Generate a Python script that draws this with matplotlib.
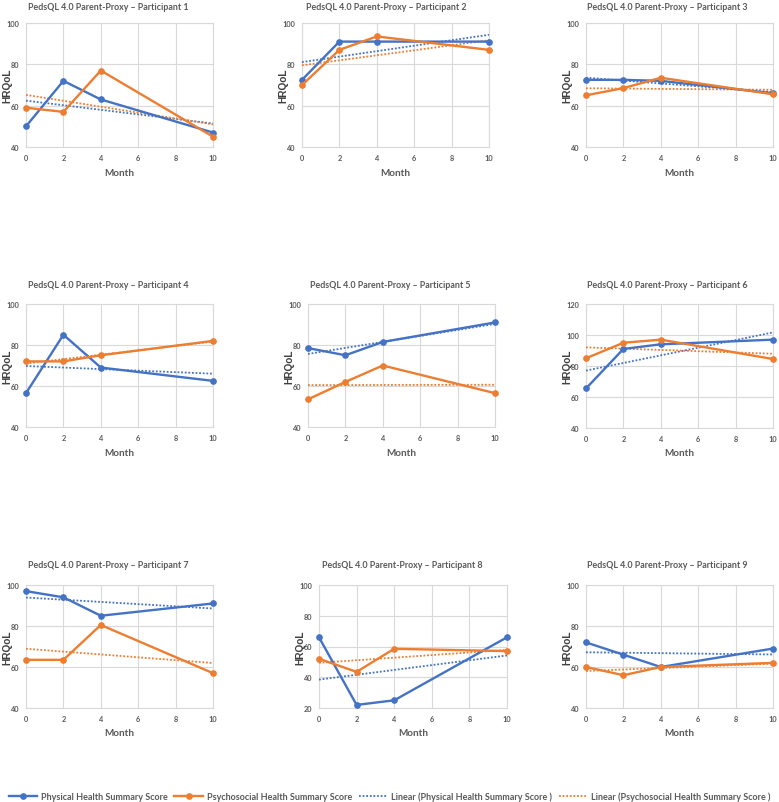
import numpy as np
import matplotlib
matplotlib.use("Agg")
import matplotlib.pyplot as plt
from matplotlib.lines import Line2D

plt.rcParams['font.family'] = ['Lato', 'DejaVu Sans']

months = [0, 2, 4, 10]
participants = ["Participant 1", "Participant 2", "Participant 3",
                "Participant 4", "Participant 5", "Participant 6",
                "Participant 7", "Participant 8", "Participant 9"]
physical = [
    [50, 72, 63, 47],
    [72.5, 91, 91, 91],
    [72.5, 72.5, 72, 66],
    [56.5, 85, 69, 62.5],
    [78.5, 75, 81.5, 91],
    [65.5, 91, 94, 97],
    [97, 94, 85, 91],
    [66, 22, 25, 66],
    [72, 66, 60, 69],
]
psychosocial = [
    [59, 57, 77, 45],
    [70, 87, 93.5, 87],
    [65, 68.5, 73.5, 65.5],
    [72, 72, 75, 82],
    [53.5, 62, 70, 56.5],
    [85, 95, 97, 84.5],
    [63.5, 63.5, 80.5, 57],
    [52, 43.5, 58.5, 57],
    [60, 56, 60, 62],
]
y_limits = [(40, 100), (40, 100), (40, 100),
            (40, 100), (40, 100), (40, 120),
            (40, 100), (20, 100), (40, 100)]
series_names = ["Physical Health Summary Score", "Psychosocial Health Summary Score",
                "Linear (Physical Health Summary Score )", "Linear (Psychosocial Health Summary Score )"]

W, H = 779, 803
BLUE = "#4472C4"
ORANGE = "#ED7D31"
GRID = "#D9D9D9"
TXT = "#595959"

# layout in pixels: (x0, x10, ytop, ybottom, title_cx, title_y, ylabel_x, xlabel_y)
layout = [
    (26, 213, 24, 148, 108, 8, 7, 174),
    (302, 489, 24, 148, 386, 8, 283, 174),
    (586, 773, 24, 148, 667, 8, 567, 174),
    (26, 213, 305, 428, 108, 286, 7, 454),
    (308, 495, 305, 428, 390, 286, 289, 454),
    (586, 773, 305, 429, 667, 286, 567, 454),
    (26, 213, 586, 709, 108, 566, 7, 734),
    (319, 507, 586, 709, 402, 566, 300, 734),
    (586, 773, 586, 709, 667, 566, 567, 734),
]

fig = plt.figure(figsize=(W / 100, H / 100), dpi=100)

for i in range(9):
    x0, x1, yt, yb, tcx, ty, ylx, xly = layout[i]
    ax = fig.add_axes([x0 / W, 1 - yb / H, (x1 - x0) / W, (yb - yt) / H])
    xs = np.array(months, dtype=float)
    pb = np.array(physical[i], dtype=float)
    po = np.array(psychosocial[i], dtype=float)
    xfit = np.array([0, 10], dtype=float)
    cb = np.polyfit(xs, pb, 1)
    co = np.polyfit(xs, po, 1)
    ax.plot(xs, pb, color=BLUE, lw=1.7, marker='o', ms=3.8, zorder=4)
    ax.plot(xs, po, color=ORANGE, lw=1.7, marker='o', ms=3.8, zorder=4)
    ax.plot(xfit, np.polyval(cb, xfit), color=BLUE, lw=1.3, ls=(0, (1, 1)), zorder=3)
    ax.plot(xfit, np.polyval(co, xfit), color=ORANGE, lw=1.3, ls=(0, (1, 1)), zorder=3)
    ax.set_xlim(0, 10)
    ax.set_ylim(*y_limits[i])
    ax.set_xticks([0, 2, 4, 6, 8, 10])
    ax.set_yticks(np.arange(y_limits[i][0], y_limits[i][1] + 1, 20))
    ax.grid(True, color=GRID, lw=0.8)
    ax.set_axisbelow(True)
    for s in ax.spines.values():
        s.set_color(GRID)
        s.set_linewidth(0.8)
    ax.tick_params(length=0, labelsize=5.3, labelcolor=TXT, pad=5)
    for lab in ax.get_xticklabels() + ax.get_yticklabels():
        lab.set_fontweight('bold')
    ax.patch.set_alpha(0)
    for ln in ax.lines:
        ln.set_clip_on(False)

    fig.text(tcx / W, 1 - ty / H, "PedsQL 4.0 Parent-Proxy \u2013 " + participants[i],
             ha='center', va='center', fontsize=6.4, fontweight='bold', color=TXT)
    fig.text(ylx / W, 1 - ((yt + yb) / 2) / H, "HRQoL", rotation=90,
             ha='center', va='center', fontsize=7.3, fontweight='bold', color='#404040',
             family=['Liberation Sans', 'DejaVu Sans'])
    fig.text(((x0 + x1) / 2) / W, 1 - xly / H, "Month",
             ha='center', va='center', fontsize=7.2, fontweight='bold', color=TXT)

handles = [
    Line2D([], [], color=BLUE, lw=1.7, marker='o', ms=3.8),
    Line2D([], [], color=ORANGE, lw=1.7, marker='o', ms=3.8),
    Line2D([], [], color=BLUE, lw=1.3, ls=(0, (1, 1))),
    Line2D([], [], color=ORANGE, lw=1.3, ls=(0, (1, 1))),
]
leg = fig.legend(handles, series_names, loc='center', ncol=4,
                 bbox_to_anchor=(0.5, 1 - 797 / H), frameon=False,
                 prop={'size': 6.45, 'weight': 'bold'}, handlelength=3.2,
                 handletextpad=0.4, columnspacing=0.75, labelcolor=TXT,
                 borderpad=0, borderaxespad=0)

fig.savefig("out.png", dpi=100)
